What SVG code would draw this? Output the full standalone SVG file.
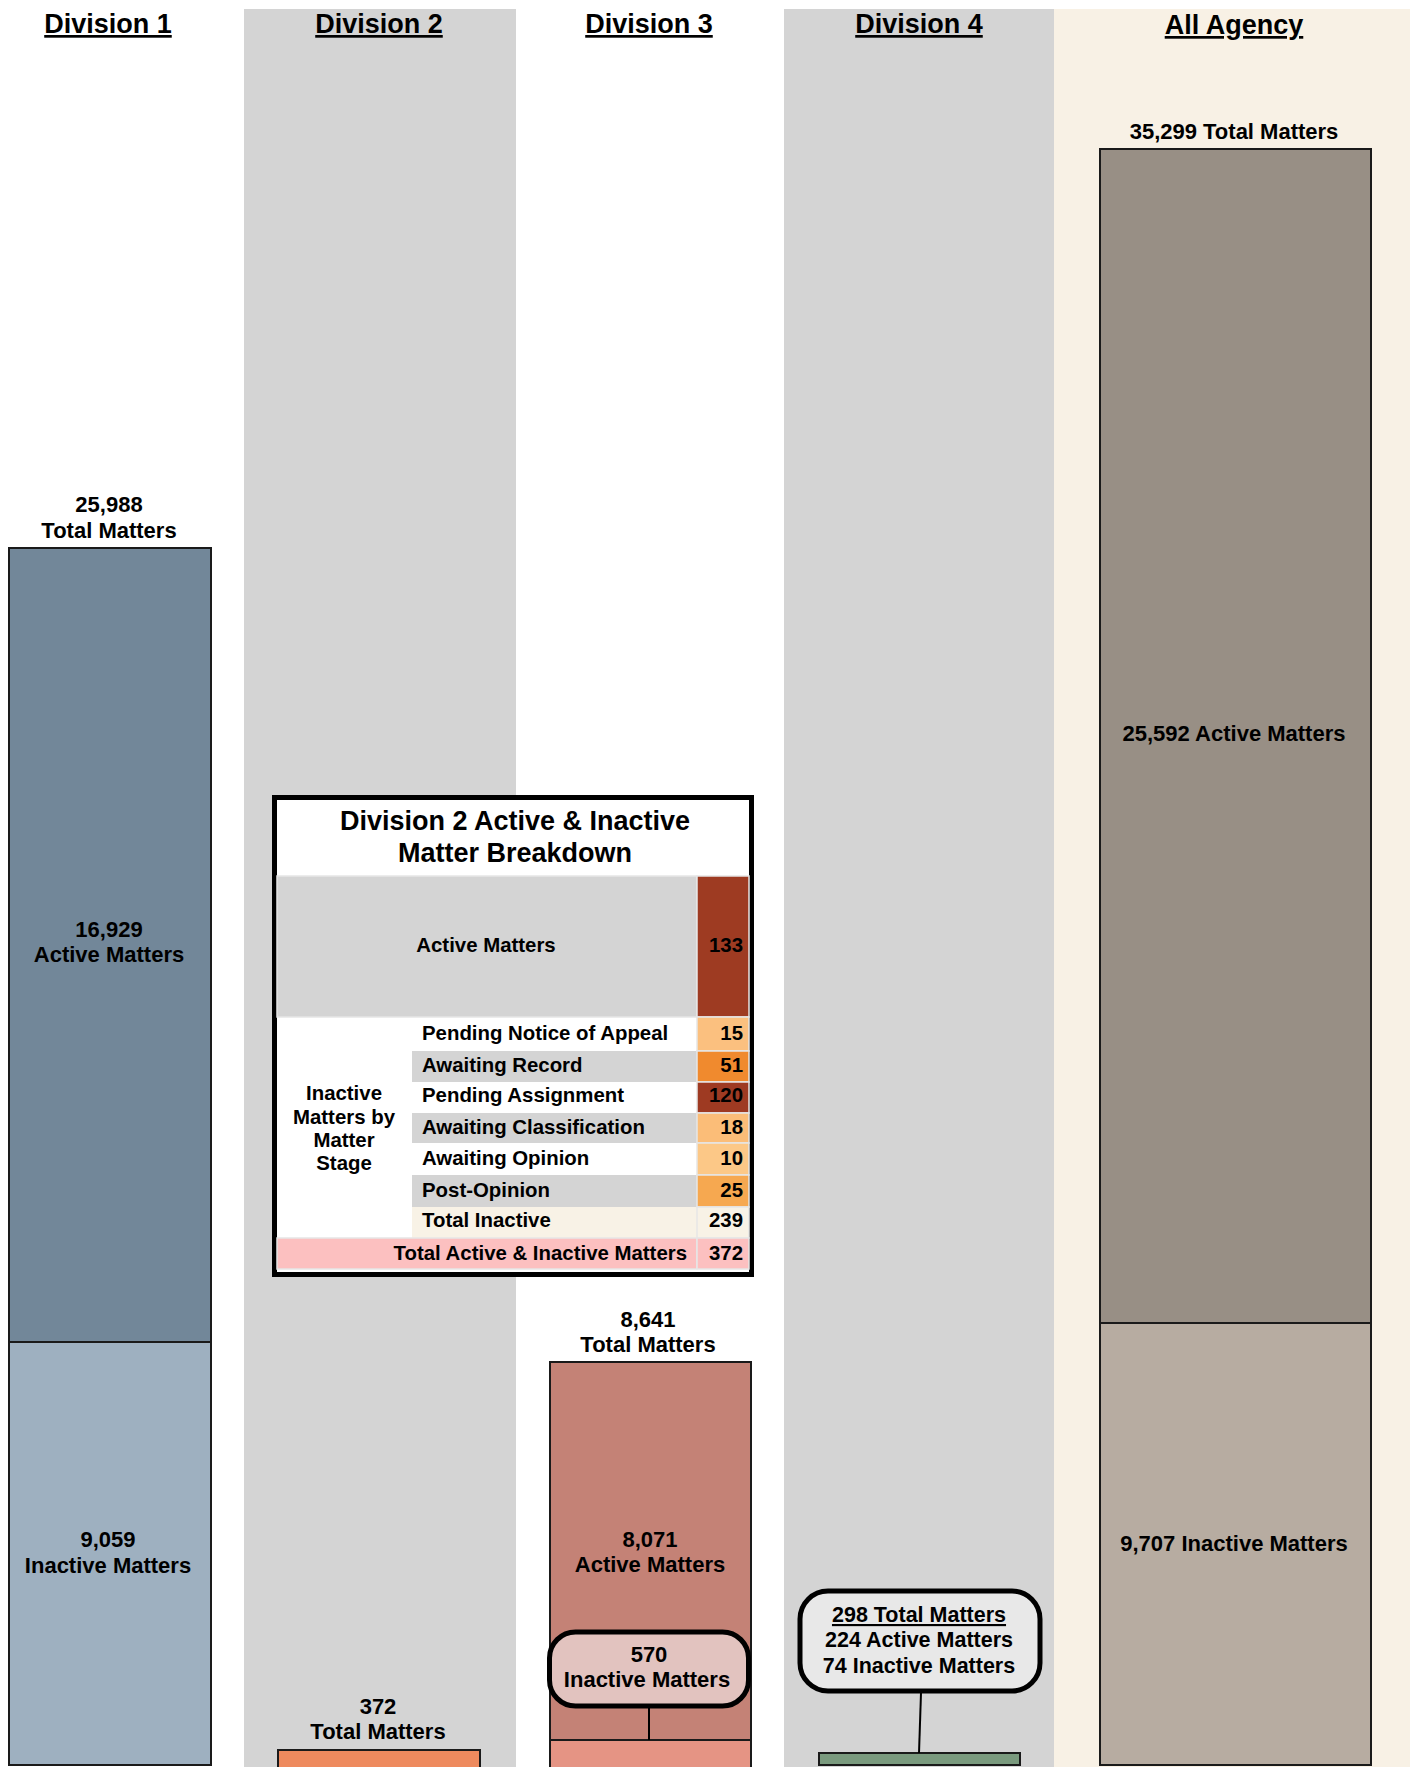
<svg xmlns="http://www.w3.org/2000/svg" width="1410" height="1767" viewBox="0 0 1410 1767">
<style>
text{font-family:"Liberation Sans",Arial,sans-serif;font-weight:bold;fill:#000}
.hdr{font-size:27px;text-anchor:middle;text-decoration:underline}
.lbl{font-size:22px;text-anchor:middle}
.tb{font-size:20.4px}
.val{font-size:20.4px;text-anchor:end}
.bar{stroke:#1a1a1a;stroke-width:2}
.cell{stroke:#e6e6e6;stroke-width:1.5}
.conn{stroke:#000;stroke-width:2;fill:none}
.call{stroke:#000;stroke-width:5}
</style>
<g id="backgrounds">
<rect x="0" y="0" width="1410" height="1767" fill="#ffffff"/>
<rect x="244" y="9" width="272" height="1758" fill="#d4d4d4"/>
<rect x="784" y="9" width="270" height="1758" fill="#d4d4d4"/>
<rect x="1054" y="9" width="356" height="1758" fill="#f8f1e5"/>
</g>
<g id="headers">
<text class="hdr" x="108" y="33">Division 1</text>
<text class="hdr" x="379" y="33">Division 2</text>
<text class="hdr" x="649" y="33">Division 3</text>
<text class="hdr" x="919" y="33">Division 4</text>
<text class="hdr" x="1234" y="34">All Agency</text>
</g>
<g id="division1">
<text class="lbl" x="109" y="512">25,988</text>
<text class="lbl" x="109" y="538">Total Matters</text>
<rect class="bar" x="9" y="548" width="202" height="794" fill="#728799"/>
<rect class="bar" x="9" y="1342" width="202" height="423" fill="#9eb0c0"/>
<text class="lbl" x="109" y="937">16,929</text>
<text class="lbl" x="109" y="962">Active Matters</text>
<text class="lbl" x="108" y="1547">9,059</text>
<text class="lbl" x="108" y="1573">Inactive Matters</text>
</g>
<g id="division2">
<text class="lbl" x="378" y="1714">372</text>
<text class="lbl" x="378" y="1739">Total Matters</text>
<rect class="bar" x="278" y="1750" width="202" height="20" fill="#ee8a5e"/>
</g>
<g id="division3">
<text class="lbl" x="648" y="1327">8,641</text>
<text class="lbl" x="648" y="1352">Total Matters</text>
<rect class="bar" x="550" y="1362" width="201" height="378" fill="#c48276"/>
<rect class="bar" x="550" y="1740" width="201" height="30" fill="#e59484"/>
<text class="lbl" x="650" y="1547">8,071</text>
<text class="lbl" x="650" y="1572">Active Matters</text>
</g>
<g id="division3-callout">
<rect class="call" x="549.5" y="1632" width="199" height="74" rx="26" fill="#e2c3bf"/>
<text class="lbl" x="649" y="1662">570</text>
<text class="lbl" x="647" y="1687">Inactive Matters</text>
</g>
<g id="division4">
<rect class="bar" x="819" y="1753" width="201" height="12" fill="#7a9a7e"/>
</g>
<g id="division4-callout">
<rect class="call" x="800" y="1591" width="240" height="100" rx="28" fill="#e8e8e8"/>
<text class="lbl" x="919" y="1622" style="font-size:21.5px;text-decoration:underline">298 Total Matters</text>
<text class="lbl" x="919" y="1647" style="font-size:21.5px">224 Active Matters</text>
<text class="lbl" x="919" y="1673" style="font-size:21.5px">74 Inactive Matters</text>
</g>
<g id="all-agency">
<text class="lbl" x="1234" y="139">35,299 Total Matters</text>
<rect class="bar" x="1100" y="149" width="271" height="1174" fill="#988f85"/>
<rect class="bar" x="1100" y="1323" width="271" height="442" fill="#b7aca1"/>
<text class="lbl" x="1234" y="741">25,592 Active Matters</text>
<text class="lbl" x="1234" y="1551">9,707 Inactive Matters</text>
</g>
<g id="connectors">
<line class="conn" x1="649" y1="1708" x2="649" y2="1740"/>
<line class="conn" x1="921" y1="1693" x2="919" y2="1753"/>
</g>
<g id="division2-breakdown">
<rect x="274.5" y="797.5" width="477" height="477" fill="#ffffff" stroke="#000" stroke-width="5"/>
<text x="515" y="830" style="font-size:27px;text-anchor:middle">Division 2 Active &amp; Inactive</text>
<text x="515" y="862" style="font-size:27px;text-anchor:middle">Matter Breakdown</text>
<rect x="277" y="876" width="420" height="141" fill="#d4d4d4" stroke="#e6e6e6" stroke-width="1.5"/>
<rect class="cell" x="697" y="876" width="52" height="141" fill="#9e3b22"/>
<text class="tb" x="486" y="952" text-anchor="middle">Active Matters</text>
<text class="val" x="743" y="952">133</text>
<rect x="412" y="1051" width="285" height="31" fill="#d4d4d4"/>
<rect x="412" y="1113" width="285" height="30" fill="#d4d4d4"/>
<rect x="412" y="1175" width="285" height="32" fill="#d4d4d4"/>
<rect x="412" y="1207" width="285" height="31" fill="#f8f2e6"/>
<rect class="cell" x="697" y="1017" width="52" height="34" fill="#fbc07f"/>
<rect class="cell" x="697" y="1051" width="52" height="31" fill="#f08a2e"/>
<rect class="cell" x="697" y="1082" width="52" height="31" fill="#9e3a22"/>
<rect class="cell" x="697" y="1113" width="52" height="30" fill="#fbbd78"/>
<rect class="cell" x="697" y="1143" width="52" height="32" fill="#fcc887"/>
<rect class="cell" x="697" y="1175" width="52" height="32" fill="#f6a850"/>
<rect class="cell" x="697" y="1207" width="52" height="31" fill="#f8f2e6"/>
<rect x="277" y="1238" width="420" height="31" fill="#fcc0c0" stroke="#e6e6e6" stroke-width="1.5"/>
<rect class="cell" x="697" y="1238" width="52" height="31" fill="#fcc0c0"/>
<text class="tb" x="344" y="1100" text-anchor="middle">Inactive</text>
<text class="tb" x="344" y="1124" text-anchor="middle">Matters by</text>
<text class="tb" x="344" y="1147" text-anchor="middle">Matter</text>
<text class="tb" x="344" y="1170" text-anchor="middle">Stage</text>
<text class="tb" x="422" y="1040">Pending Notice of Appeal</text>
<text class="tb" x="422" y="1072">Awaiting Record</text>
<text class="tb" x="422" y="1102">Pending Assignment</text>
<text class="tb" x="422" y="1134">Awaiting Classification</text>
<text class="tb" x="422" y="1165">Awaiting Opinion</text>
<text class="tb" x="422" y="1197">Post-Opinion</text>
<text class="tb" x="422" y="1227">Total Inactive</text>
<text class="tb" x="687" y="1260" text-anchor="end">Total Active &amp; Inactive Matters</text>
<text class="val" x="743" y="1040">15</text>
<text class="val" x="743" y="1072">51</text>
<text class="val" x="743" y="1102">120</text>
<text class="val" x="743" y="1134">18</text>
<text class="val" x="743" y="1165">10</text>
<text class="val" x="743" y="1197">25</text>
<text class="val" x="743" y="1227">239</text>
<text class="val" x="743" y="1260">372</text>
</g>
</svg>
